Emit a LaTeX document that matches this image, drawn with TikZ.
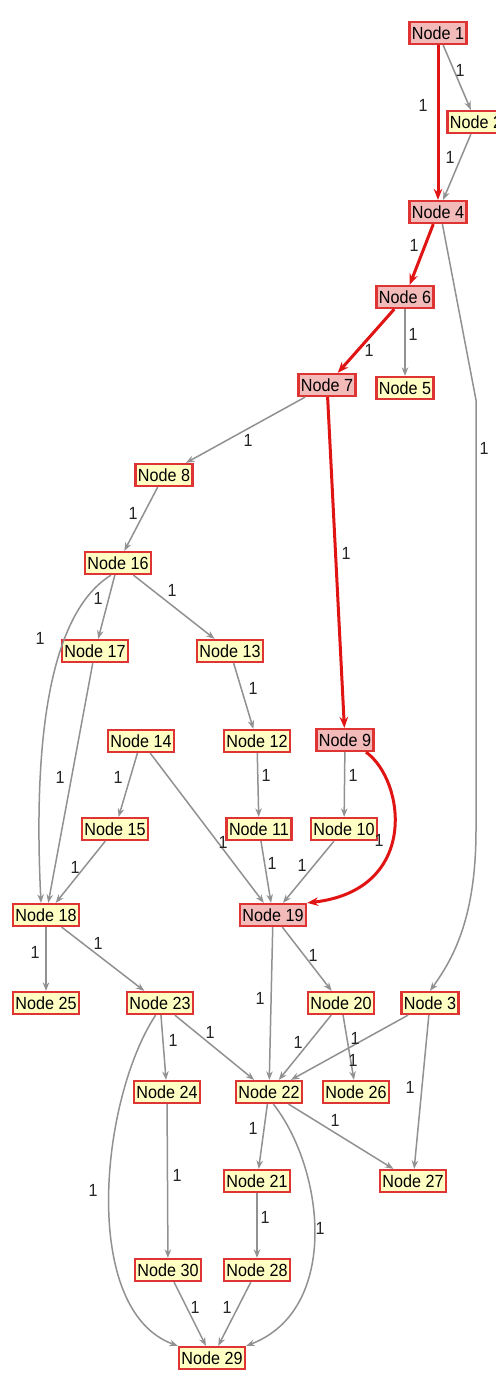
\documentclass[tikz,border=0pt]{standalone}
\usepackage{fontspec}
\setmainfont{Liberation Sans}[FakeStretch=0.92]
\usetikzlibrary{arrows.meta}
\definecolor{nfill}{RGB}{255,255,196}
\definecolor{pfill}{RGB}{243,186,186}
\definecolor{nbord}{RGB}{222,52,52}
\definecolor{gedge}{RGB}{145,145,145}
\definecolor{redge}{RGB}{225,20,20}
\begin{document}
\begin{tikzpicture}[x=0.02cm,y=-0.02cm,
 nd/.style={draw=nbord, line width=0.045cm, fill=nfill, inner xsep=0.05cm, inner ysep=0pt, minimum height=0.44cm, font=\fontsize{10}{12}\selectfont},
 pn/.style={nd, fill=pfill},
 ge/.style={draw=gedge, line width=0.03cm, -{Stealth[length=0.17cm,width=0.13cm]}},
 re/.style={draw=redge, line width=0.06cm, -{Stealth[length=0.22cm,width=0.17cm]}},
 lb/.style={font=\fontsize{10}{12}\selectfont, text=black!85, inner sep=0pt}]
\useasboundingbox[fill=white] (0,0) rectangle (495,1376);
% nodes
\node[pn] (n1) at (438,33) {Node 1};
\node[nd] (n2) at (476,122) {Node 2};
\node[pn] (n4) at (438,212) {Node 4};
\node[pn] (n6) at (405,297) {Node 6};
\node[pn] (n7) at (327,385) {Node 7};
\node[nd] (n5) at (405,388) {Node 5};
\node[nd] (n8) at (164,475) {Node 8};
\node[nd] (n16) at (118,563) {Node 16};
\node[nd] (n17) at (95,651) {Node 17};
\node[nd] (n13) at (230,651) {Node 13};
\node[nd] (n14) at (141,741) {Node 14};
\node[nd] (n12) at (257,741) {Node 12};
\node[pn] (n9) at (345,740) {Node 9};
\node[nd] (n15) at (115,829) {Node 15};
\node[nd] (n11) at (259,829) {Node 11};
\node[nd] (n10) at (344,829) {Node 10};
\node[nd] (n18) at (46,915) {Node 18};
\node[pn] (n19) at (273,915) {Node 19};
\node[nd] (n25) at (46,1003) {Node 25};
\node[nd] (n23) at (160,1003) {Node 23};
\node[nd] (n20) at (341,1003) {Node 20};
\node[nd] (n3) at (430,1003) {Node 3};
\node[nd] (n24) at (167,1092) {Node 24};
\node[nd] (n22) at (269,1092) {Node 22};
\node[nd] (n26) at (356,1092) {Node 26};
\node[nd] (n21) at (257,1181) {Node 21};
\node[nd] (n27) at (413,1181) {Node 27};
\node[nd] (n30) at (168,1270) {Node 30};
\node[nd] (n28) at (257,1270) {Node 28};
\node[nd] (n29) at (212,1358) {Node 29};
% edges
\draw[ge] (n1) -- (n2);
\draw[ge] (n2) -- (n4);
\draw[re] (n1) -- (n4);
\draw[re] (n4) -- (n6);
\draw[ge] (n4.-70) -- (476,400) -- (476,830) .. controls (476,920) and (452,960) .. (n3.north);
\draw[re] (n6) -- (n7);
\draw[ge] (n6) -- (n5);
\draw[ge] (n7) -- (n8);
\draw[re] (n7) -- (n9);
\draw[ge] (n8) -- (n16);
\draw[ge] (n16) -- (n17);
\draw[ge] (n16) -- (n13);
\draw[ge] (n16.-120) .. controls (55,610) and (32,720) .. ([xshift=-0.1cm]n18.north);
\draw[ge] (n17) -- (n18);
\draw[ge] (n13) -- (n12);
\draw[ge] (n14) -- (n15);
\draw[ge] (n14) -- (n19);
\draw[ge] (n15) -- (n18);
\draw[ge] (n12) -- (n11);
\draw[ge] (n11) -- (n19);
\draw[ge] (n9) -- (n10);
\draw[ge] (n10) -- (n19);
\draw[re] (n9.-30) .. controls (405,780) and (420,890) .. (n19.north east);
\draw[ge] (n18) -- (n25);
\draw[ge] (n18) -- (n23);
\draw[ge] (n19) -- (n20);
\draw[ge] (n19) -- (n22);
\draw[ge] (n20) -- (n22);
\draw[ge] (n3) -- (n22);
\draw[ge] (n20) -- (n26);
\draw[ge] (n3) -- (n27);
\draw[ge] (n23) -- (n24);
\draw[ge] (n23) -- (n22);
\draw[ge] (n23.-110) .. controls (100,1100) and (80,1310) .. (n29.north west);
\draw[ge] (n24) -- (n30);
\draw[ge] (n22) -- (n21);
\draw[ge] (n22) -- (n27);
\draw[ge] (n22.-70) .. controls (325,1170) and (340,1310) .. (n29.north east);
\draw[ge] (n21) -- (n28);
\draw[ge] (n30) -- (n29);
\draw[ge] (n28) -- (n29);
% labels
\node[lb] (l1) at (460,70) {1};
\node[lb] (l2) at (423,105) {1};
\node[lb] (l3) at (450,157) {1};
\node[lb] (l4) at (414,245) {1};
\node[lb] (l5) at (484,448) {1};
\node[lb] (l6) at (369,350) {1};
\node[lb] (l7) at (413,334) {1};
\node[lb] (l8) at (248,440) {1};
\node[lb] (l9) at (346,553) {1};
\node[lb] (l10) at (133,513) {1};
\node[lb] (l11) at (98,598) {1};
\node[lb] (l12) at (172,590) {1};
\node[lb] (l13) at (40,638) {1};
\node[lb] (l14) at (60,777) {1};
\node[lb] (l15) at (118,777) {1};
\node[lb] (l16) at (75,867) {1};
\node[lb] (l17) at (253,688) {1};
\node[lb] (l18) at (266,775) {1};
\node[lb] (l19) at (353,775) {1};
\node[lb] (l20) at (223,842) {1};
\node[lb] (l21) at (272,863) {1};
\node[lb] (l22) at (302,865) {1};
\node[lb] (l23) at (379,840) {1};
\node[lb] (l24) at (35,952) {1};
\node[lb] (l25) at (98,943) {1};
\node[lb] (l26) at (313,955) {1};
\node[lb] (l27) at (260,998) {1};
\node[lb] (l28) at (173,1040) {1};
\node[lb] (l29) at (210,1032) {1};
\node[lb] (l30) at (298,1042) {1};
\node[lb] (l31) at (355,1038) {1};
\node[lb] (l32) at (353,1060) {1};
\node[lb] (l33) at (410,1087) {1};
\node[lb] (l34) at (253,1128) {1};
\node[lb] (l35) at (335,1120) {1};
\node[lb] (l36) at (93,1190) {1};
\node[lb] (l37) at (177,1175) {1};
\node[lb] (l38) at (265,1217) {1};
\node[lb] (l39) at (320,1228) {1};
\node[lb] (l40) at (195,1307) {1};
\node[lb] (l41) at (227,1307) {1};
\end{tikzpicture}
\end{document}
